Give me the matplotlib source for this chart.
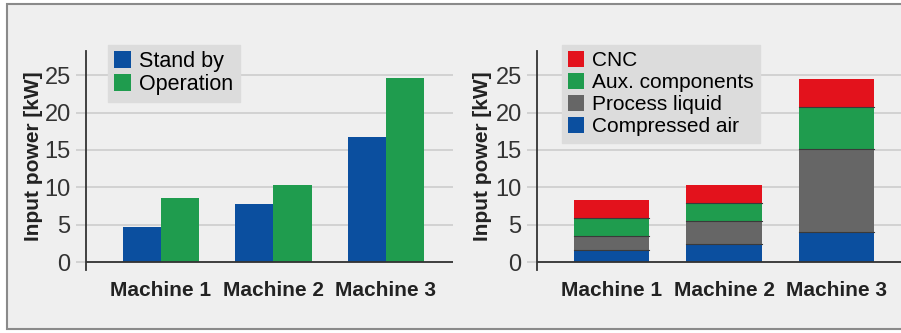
import numpy as np
from matplotlib import pyplot as plt
from matplotlib.patches import Rectangle

plt.rcParams['font.family'] = ['Liberation Sans', 'DejaVu Sans']

# Data
MACHINES = ['Machine 1', 'Machine 2', 'Machine 3']

STAND_BY  = [4.75, 7.8, 16.7]
OPERATION = [8.55, 10.3, 24.6]

COMPRESSED_AIR = [1.7, 2.5, 4.0]
PROCESS_LIQUID = [1.85, 2.95, 11.1]
AUX_COMPONENTS = [2.3, 2.45, 5.6]
CNC            = [2.5, 2.45, 3.8]

YLABEL = 'Input power [kW]'

# Colors
BLUE  = '#0b4f9f'
GREEN = '#1f9c4e'
RED   = '#e3121c'
GREY  = '#666666'
BG    = '#efefef'
LEG_BG = '#dcdcdc'
GRID  = '#cfcfcf'
DARK  = '#333333'


def style_axes(ax, xlim):
    ax.set_facecolor(BG)
    ax.set_xlim(*xlim)
    ax.set_ylim(-1.0, 28.2)
    ax.set_yticks([0, 5, 10, 15, 20, 25])
    ax.yaxis.grid(True, color = GRID, linewidth = 1.3)
    ax.set_axisbelow(True)
    for s in ['top', 'right', 'bottom']:
        ax.spines[s].set_visible(False)
    ax.spines['left'].set_color(DARK)
    ax.spines['left'].set_linewidth(1.3)
    ax.axhline(0, color = DARK, linewidth = 1.3, zorder = 3)
    ax.tick_params(axis = 'y', length = 7, width = 1.3, color = GRID,
                   labelsize = 17, pad = 4, labelcolor = '#333333')
    ax.yaxis.get_major_ticks()[0].tick1line.set_color(DARK)
    ax.set_xticks(range(len(MACHINES)))
    ax.set_xticklabels(MACHINES, fontsize = 15, fontweight = 'bold', color = '#222222')
    ax.tick_params(axis = 'x', length = 0, pad = 8)
    ax.set_ylabel(YLABEL, fontsize = 15, fontweight = 'bold', color = '#222222')


def main():
    fig = plt.figure(figsize = (9.01, 3.33), dpi = 100)
    fig.patch.set_facecolor('white')
    fig.patches.append(Rectangle((7 / 901, 4 / 333), 1.0, 325 / 333, transform = fig.transFigure,
                                 facecolor = BG, edgecolor = '#8a8a8a', linewidth = 1.5,
                                 zorder = -10))

    x = np.arange(len(MACHINES))

    # Left: stand by vs operation
    ax1 = fig.add_axes([86 / 901, 0.1898, 367 / 901, 0.6567])
    style_axes(ax1, (-0.667, 2.596))
    w = 0.338
    ax1.bar(x - w / 2, STAND_BY, w, color = BLUE, label = 'Stand by', zorder = 2)
    ax1.bar(x + w / 2, OPERATION, w, color = GREEN, label = 'Operation', zorder = 2)
    ax1.yaxis.set_label_coords(-0.118, 0.52)
    ax1.legend(loc = 'upper left', bbox_to_anchor = (0.06, 1.03), fontsize = 15.5,
               frameon = True, fancybox = False, facecolor = LEG_BG, edgecolor = LEG_BG,
               framealpha = 1, handlelength = 0.75, handleheight = 0.85, handletextpad = 0.4,
               labelspacing = 0.1, borderpad = 0.3, borderaxespad = 0)

    # Right: stacked breakdown
    ax2 = fig.add_axes([537 / 901, 0.1898, 364 / 901, 0.6567])
    style_axes(ax2, (-0.662, 2.573))
    w2 = 0.67
    b1 = np.array(COMPRESSED_AIR)
    b2 = b1 + np.array(PROCESS_LIQUID)
    b3 = b2 + np.array(AUX_COMPONENTS)
    h_air = ax2.bar(x, COMPRESSED_AIR, w2, color = BLUE, zorder = 2)
    h_liq = ax2.bar(x, PROCESS_LIQUID, w2, bottom = b1, color = GREY, zorder = 2)
    h_aux = ax2.bar(x, AUX_COMPONENTS, w2, bottom = b2, color = GREEN, zorder = 2)
    h_cnc = ax2.bar(x, CNC, w2, bottom = b3, color = RED, zorder = 2)
    for hs in [h_air, h_liq, h_aux]:
        for r in hs:
            ax2.plot([r.get_x(), r.get_x() + r.get_width()], [r.get_y() + r.get_height()] * 2,
                     color = '#3a3a3a', linewidth = 0.8, zorder = 3)
    ax2.yaxis.set_label_coords(-0.123, 0.52)
    ax2.legend([h_cnc, h_aux, h_liq, h_air],
               ['CNC', 'Aux. components', 'Process liquid', 'Compressed air'],
               loc = 'upper left', bbox_to_anchor = (0.068, 1.03), fontsize = 15,
               frameon = True, fancybox = False, facecolor = LEG_BG, edgecolor = LEG_BG,
               framealpha = 1, handlelength = 0.75, handleheight = 0.85, handletextpad = 0.4,
               labelspacing = 0.12, borderpad = 0.3, borderaxespad = 0)

    fig.savefig('out.png', dpi = 100)


if __name__ == '__main__':
    main()
